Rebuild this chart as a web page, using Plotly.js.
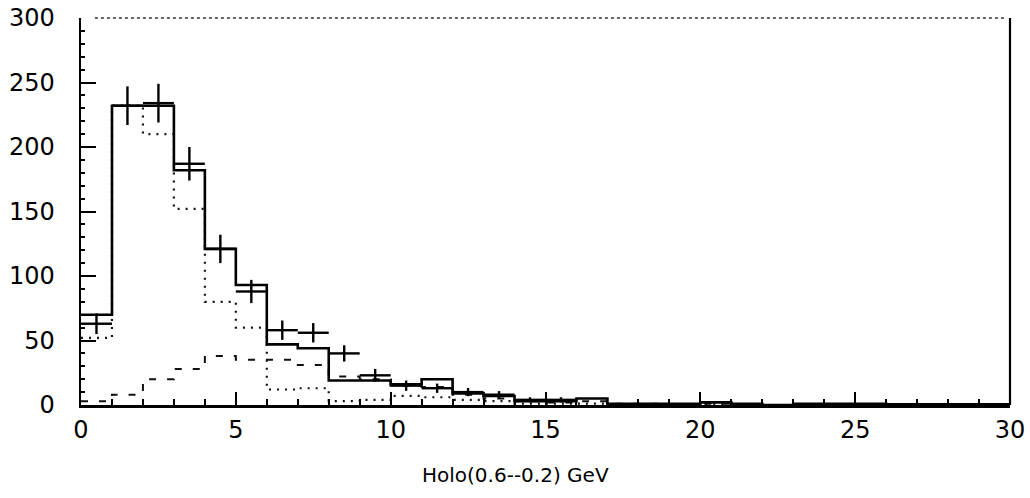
<!DOCTYPE html>
<html>
<head>
<meta charset="utf-8">
<script src="https://cdn.plot.ly/plotly-3.0.1.min.js"></script>
<style>html,body{margin:0;padding:0;background:#fff;}#chart{width:1030px;height:498px;}</style>
</head>
<body>
<div id="chart"></div>
<script>
// bin edges 0..30, bin width 1
const binEdges = [0,1,2,3,4,5,6,7,8,9,10,11,12,13,14,15,16,17,18,19,20,21,22,23,24,25,26,27,28,29,30];
// solid histogram (total)
const totalVals  = [70,232,232,182,121,93,47,44,19,19,16,20,9,7,3,3,5,1,1,1,2,1,0,1,1,1,0.5,0.5,0.5,0.5];
// dotted histogram
const dottedVals = [52,232,210,152,80,60,12,13,3,4,7,6,4,3,1,1,1,0.5,0.5,0.5,0.5,0,0,0,0,0,0,0,0,0];
// dashed histogram
const dashedVals = [3,8,20,28,38,35,35,31,22,20,15,14,8,5,3,2,3,1,1,0.5,1,0.5,0,0.5,0.5,0.5,0,0,0,0];
// data points with errors
const dataX   = [0.5,1.5,2.5,3.5,4.5,5.5,6.5,7.5,8.5,9.5,10.5,11.5,12.5,13.5,14.5,15.5];
const dataY   = [63,232,234,187,121,88,58,56,40,23,15,13,10,8,4,4];
const dataErr = [8,15,15,13,11,9,7.5,7.5,6.3,5,4,3.6,3.2,2.8,2,2];
const dataHalfWidth = [0.5,0.5,0.5,0.5,0.5,0.5,0.5,0.5,0.5,0.5,0.5,0.5,0.5,0.5,0.5,0.5];
const xTickVals = [0,5,10,15,20,25,30];
const yTickVals = [0,50,100,150,200,250,300];
const xTitle = 'Holo(0.6--0.2) GeV';

function stepY(vals){ return vals.concat([vals[vals.length-1]]); }

const traces = [
  {x: binEdges, y: stepY(dashedVals), mode:'lines', line:{shape:'hv', color:'#111', width:2, dash:'7px,11px'}, hoverinfo:'skip'},
  {x: binEdges, y: stepY(dottedVals), mode:'lines', line:{shape:'hv', color:'#111', width:2.2, dash:'2px,6px'}, hoverinfo:'skip'},
  {x: binEdges, y: stepY(totalVals), mode:'lines', line:{shape:'hv', color:'#000', width:2.6}, hoverinfo:'skip'},
  {x: dataX, y: dataY, mode:'markers', marker:{size:1, color:'#000'},
   error_y:{type:'data', array:dataErr, visible:true, color:'#000', thickness:2.4, width:0},
   error_x:{type:'data', array:dataHalfWidth, visible:true, color:'#000', thickness:2.4, width:0}, hoverinfo:'skip'}
];

const layout = {
  width:1030, height:498,
  margin:{l:81, r:20, t:18, b:93},
  paper_bgcolor:'#fff', plot_bgcolor:'#fff',
  showlegend:false,
  font:{family:'DejaVu Sans, Liberation Sans, sans-serif', color:'#000'},
  xaxis:{
    range:[0,30], tickvals:xTickVals, ticktext:xTickVals.map(String),
    ticks:'inside', ticklen:13, tickwidth:2, tickcolor:'#000',
    minor:{dtick:1, ticks:'inside', ticklen:6, tickwidth:2, tickcolor:'#000'},
    showline:true, linecolor:'#000', linewidth:2.5, showgrid:false, zeroline:false,
    tickfont:{size:24, color:'#000'}, ticklabelstandoff:2
  },
  yaxis:{
    range:[0,300], tickvals:yTickVals, ticktext:yTickVals.map(String),
    ticks:'inside', ticklen:15, tickwidth:2, tickcolor:'#000',
    minor:{dtick:10, ticks:'inside', ticklen:4, tickwidth:2, tickcolor:'#000'},
    showline:true, linecolor:'#000', linewidth:2.5, showgrid:false, zeroline:false,
    tickfont:{size:24, color:'#000'}, ticklabelstandoff:19
  },
  annotations:[
    {text:xTitle, xref:'paper', yref:'paper', x:0.468, y:-0.18, xanchor:'center', yanchor:'middle',
     showarrow:false, font:{size:20, color:'#000', family:'DejaVu Sans, sans-serif'}}
  ],
  shapes:[
    {type:'line', xref:'paper', yref:'paper', x0:0.015, x1:0.995, y0:1, y1:1, line:{color:'#333', width:1.6, dash:'dot'}},
    {type:'line', xref:'paper', yref:'paper', x0:1, x1:1, y0:0, y1:1, line:{color:'#000', width:2.2}}
  ]
};

Plotly.newPlot('chart', traces, layout, {staticPlot:true, displayModeBar:false});
</script>
</body>
</html>
